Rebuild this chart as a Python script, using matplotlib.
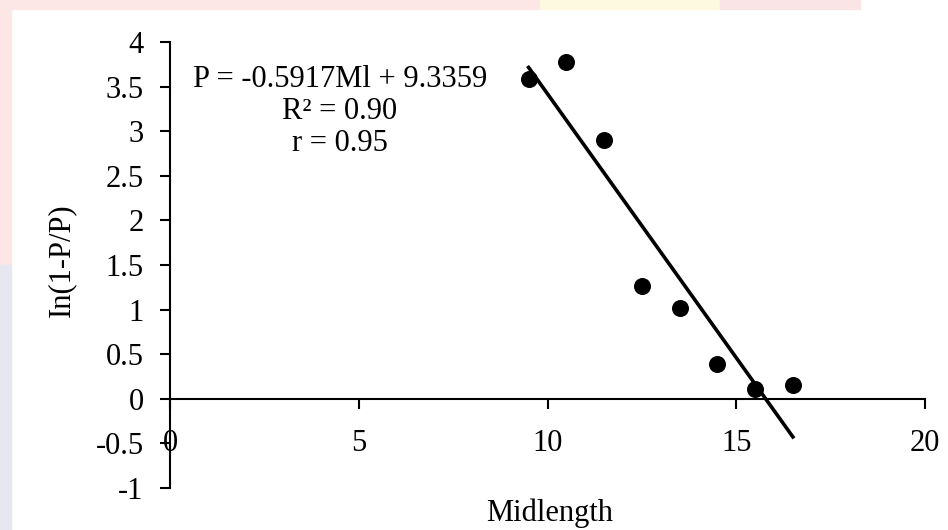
import numpy as np
import matplotlib.pyplot as plt
from matplotlib.patches import Rectangle

# Midlength classes and ln(1-P/P) values
midlength = [9.5, 10.5, 11.5, 12.5, 13.5, 14.5, 15.5, 16.5]
ln_ratio = [3.59, 3.78, 2.90, 1.26, 1.02, 0.39, 0.11, 0.16]

# trendline as printed on the chart
slope = -0.5917
intercept = 9.3359
eq_lines = ["P = -0.5917Ml + 9.3359", "R² = 0.90", "r = 0.95"]

plt.rcParams['font.family'] = ['Liberation Serif', 'DejaVu Serif']
FS = 22

fig = plt.figure(figsize=(9.48, 5.30), dpi=100)

# faint watermark edges of the original slide
W, H = 948, 530
fig.patches.append(Rectangle((0, 1 - 9 / H), 540 / W, 9 / H, transform=fig.transFigure,
                             color='#fce6e6', zorder=0))
fig.patches.append(Rectangle((540 / W, 1 - 9 / H), 180 / W, 9 / H, transform=fig.transFigure,
                             color='#fdf9e0', zorder=0))
fig.patches.append(Rectangle((720 / W, 1 - 9 / H), 140 / W, 9 / H, transform=fig.transFigure,
                             color='#fbe4e6', zorder=0))
fig.patches.append(Rectangle((0, 0.5), 11 / W, 0.5, transform=fig.transFigure,
                             color='#fce6e6', zorder=0))
fig.patches.append(Rectangle((0, 0), 11 / W, 0.5, transform=fig.transFigure,
                             color='#e6e7f0', zorder=0))

ax = fig.add_axes([170 / W, 1 - 488 / H, 755 / W, 446 / H])
ax.set_facecolor('none')

ax.scatter(midlength, ln_ratio, s=150, color='black', zorder=3, linewidths=0)

xl = np.array([min(midlength), max(midlength)])
ax.plot(xl, slope * xl + intercept, color='black', lw=2.6, zorder=2)

ax.set_xlim(0, 20)
ax.set_ylim(-1, 4)
ax.set_xticks([0, 5, 10, 15, 20])
yt = np.arange(-1, 4.01, 0.5)
ax.set_yticks(yt)
ax.set_yticklabels([f"{v:g}" for v in yt])

ax.spines['top'].set_visible(False)
ax.spines['right'].set_visible(False)
ax.spines['bottom'].set_position(('data', 0))
for sp in ['left', 'bottom']:
    ax.spines[sp].set_linewidth(1.5)

ax.tick_params(axis='both', direction='out', length=7, width=1.5, labelsize=FS)
ax.tick_params(axis='x', pad=15)
ax.tick_params(axis='y', pad=12)

ax.set_xlabel("Midlength", fontsize=FS, va='center')
ax.xaxis.set_label_coords(0.503, -0.056)
ax.set_ylabel("In(1-P/P)", fontsize=FS)
ax.yaxis.set_label_coords(-0.125, 0.511)

ax.text(4.5, 3.22, "\n".join(eq_lines), fontsize=FS, ha='center', va='center',
        linespacing=1.12)

fig.savefig("out.png", dpi=100)
